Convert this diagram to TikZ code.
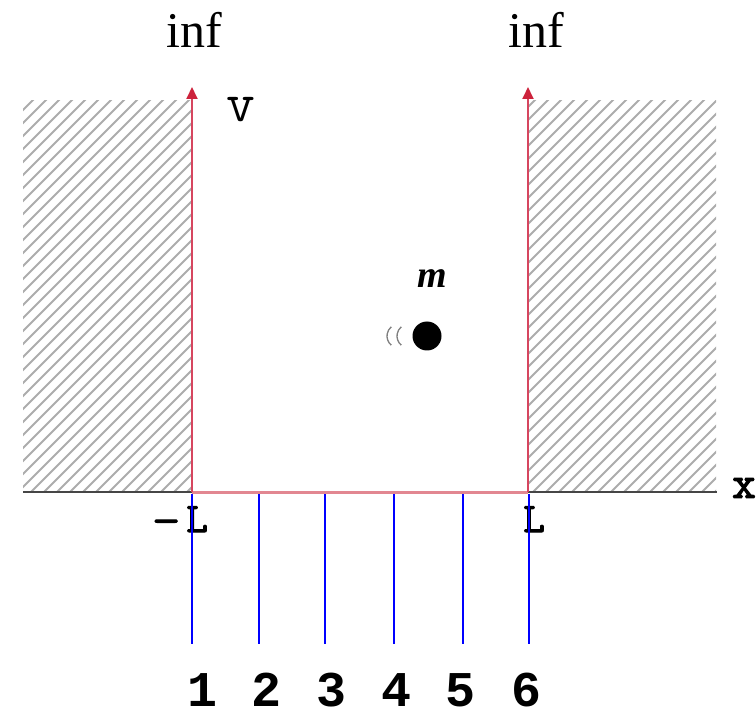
\documentclass[tikz,border=0pt]{standalone}
\usepackage{fontspec}
\usepackage{graphicx}
\setmainfont{Liberation Serif}
\newfontfamily\monofont{Liberation Mono}
\newfontfamily\ttbold[FakeBold=2.5]{Latin Modern Mono}
\newfontfamily\ttreg{Latin Modern Mono}
\usetikzlibrary{arrows.meta}
\definecolor{wallred}{RGB}{214,70,95}
\definecolor{tipred}{RGB}{205,35,60}
\definecolor{basered}{RGB}{226,135,145}
\definecolor{hatchgray}{RGB}{172,172,172}
\begin{document}
\begin{tikzpicture}[x=1pt,y=-1pt,
  hatch/.style={draw=hatchgray,line width=2pt},
  wall/.style={draw=wallred,line width=1.8pt,-{Triangle[length=12pt,width=11pt,color=tipred]}},
  axisline/.style={draw={rgb,255:red,70;green,70;blue,70},line width=2pt},
  probe/.style={draw=blue,line width=2pt},
  lbl/.style={inner sep=0pt},
  num/.style={inner sep=0pt,anchor=base,font=\monofont\bfseries\fontsize{50}{50}\selectfont}]
\useasboundingbox (0,0) rectangle (756,714);
% hatched walls
\begin{scope}
  \clip (23,101) rectangle (192,492);
  \foreach \i in {-385,-372,...,200} \draw[hatch] (\i,492) -- ++(400,-400);
\end{scope}
\begin{scope}
  \clip (528,101) rectangle (716,492);
  \foreach \i in {130,143,...,720} \draw[hatch] (\i,492) -- ++(400,-400);
\end{scope}
% axis
\coordinate (axL) at (23,492);
\coordinate (axR) at (717,492);
\coordinate (wL) at (192,492);
\coordinate (wR) at (528,492);
\coordinate (tL) at (192,87);
\coordinate (tR) at (528,87);
\draw[axisline] (axL) -- (axR);
\draw[draw=basered,line width=3pt] (wL) -- (wR);
\draw[wall] (wL) -- (tL);
\draw[wall] (wR) -- (tR);
% labels
\node[font=\fontsize{50}{50}\selectfont,inner sep=0pt] (infL) at (194,30) {inf};
\node[font=\fontsize{50}{50}\selectfont,inner sep=0pt] (infR) at (536,30) {inf};
\node[lbl,font=\ttreg\fontsize{56}{56}\selectfont] (v) at (241,110) {v};
\node[lbl,font=\ttbold\fontsize{46}{46}\selectfont] (x) at (744,488) {x};
\node[lbl,font=\ttbold\fontsize{42}{42}\selectfont,anchor=base] (mL) at (180,532) {\raisebox{-2pt}{\scalebox{1.3}[1]{-}}\hspace{6pt}L};
\node[lbl,font=\ttbold\fontsize{42}{42}\selectfont,anchor=base] (Lr) at (534,532) {L};
% particle
\node[font=\bfseries\itshape\fontsize{38}{38}\selectfont,inner sep=0pt] (m) at (432,279) {m};
\node[circle,fill=black,minimum size=29pt,inner sep=0pt] (dot) at (427,336) {};
\draw[draw=gray,line width=1.3pt] (399,336) ++(130:12) arc[start angle=130,end angle=230,radius=12];
\draw[draw=gray,line width=1.3pt] (409,336) ++(130:12) arc[start angle=130,end angle=230,radius=12];
% probe lines and numbers
\foreach \n/\px/\tx in {1/192/203,2/259/267,3/325/332,4/394/397,5/463/460,6/529/526}{
  \coordinate (p\n) at (\px,494);
  \coordinate (q\n) at (\px,644);
  \draw[probe] (p\n) -- (q\n);
  \node[num] (n\n) at (\tx,706) {\n};
}
\end{tikzpicture}
\end{document}
